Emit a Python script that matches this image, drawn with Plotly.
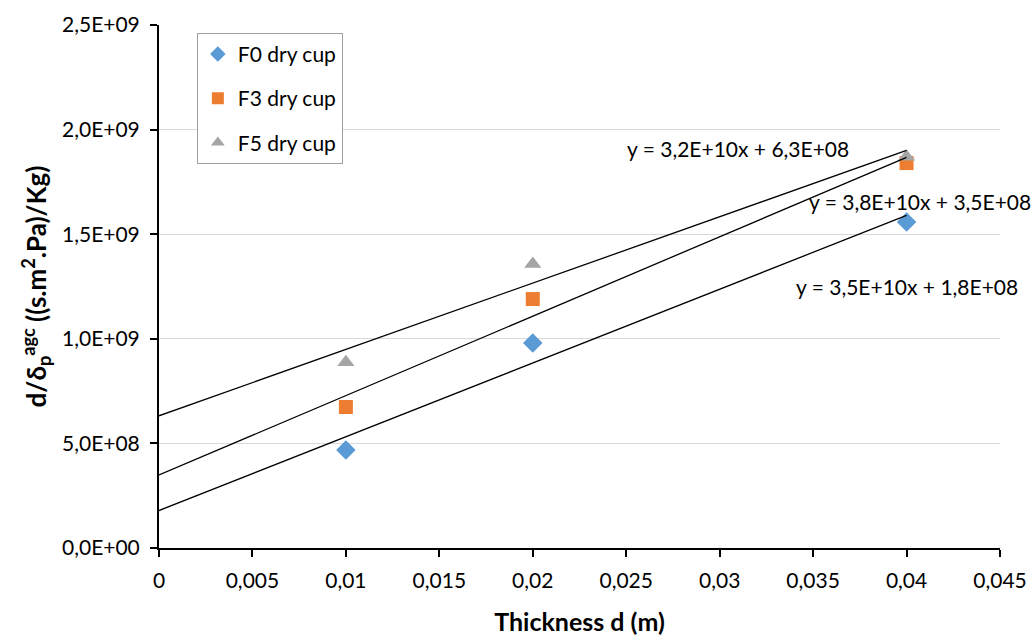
import numpy as np
import plotly.graph_objects as go

# Data
thickness = [0.01, 0.02, 0.04]
f0_values = [4.68e8, 9.80e8, 1.558e9]
f3_values = [6.74e8, 1.19e9, 1.84e9]
f5_values = [8.88e8, 1.358e9, 1.87e9]
series_names = ["F0 dry cup", "F3 dry cup", "F5 dry cup"]
series_colors = ["#5B9BD5", "#ED7D31", "#A5A5A5"]
series_symbols = ["diamond", "square", "triangle-up"]

x_tickvals = [0, 0.005, 0.01, 0.015, 0.02, 0.025, 0.03, 0.035, 0.04, 0.045]
x_ticktext = ["0", "0,005", "0,01", "0,015", "0,02", "0,025", "0,03", "0,035", "0,04", "0,045"]
y_tickvals = [0, 5e8, 1e9, 1.5e9, 2e9, 2.5e9]
y_ticktext = ["0,0E+00", "5,0E+08", "1,0E+09", "1,5E+09", "2,0E+09", "2,5E+09"]

# Equation label positions (x, y in data units) for each trendline (F0, F3, F5)
eq_label_pos = [(0.0400, 1.252e9), (0.0407, 1.654e9), (0.0310, 1.912e9)]

FONT = "Lato, 'Open Sans', sans-serif"


def fmt_sci(v):
    s = f"{v:.1E}"
    mant, exp = s.split("E")
    e = int(exp)
    return f"{mant.replace('.', ',')}E{'+' if e >= 0 else '-'}{abs(e):02d}"


fig = go.Figure()

all_series = [f0_values, f3_values, f5_values]
marker_sizes = [15, 14, 15]
for i, (name, vals, color, sym) in enumerate(zip(series_names, all_series, series_colors, series_symbols)):
    fig.add_trace(go.Scatter(
        x=thickness, y=vals, mode="markers", name=name, legendgroup=f"g{i}",
        marker=dict(symbol=sym, color=color, size=marker_sizes[i], line=dict(width=0)),
    ))

# Trendlines
for i, vals in enumerate(all_series):
    slope, intercept = np.polyfit(thickness, vals, 1)
    xs = [0, max(thickness)]
    ys = [intercept + slope * x for x in xs]
    fig.add_trace(go.Scatter(x=xs, y=ys, mode="lines", showlegend=False,
                             line=dict(color="black", width=1.3), hoverinfo="skip"))
    ex, ey = eq_label_pos[i]
    fig.add_annotation(x=ex, y=ey, xref="x", yref="y", showarrow=False,
                       text=f"y = {fmt_sci(slope)}x + {fmt_sci(intercept)}",
                       font=dict(family=FONT, size=21, color="black"))

fig.update_layout(
    width=1035, height=639,
    margin=dict(l=159, r=35, t=25, b=91),
    plot_bgcolor="white", paper_bgcolor="white",
    font=dict(family=FONT, size=21, color="black"),
    showlegend=True,
    legend=dict(x=0.045, y=0.985, xanchor="left", yanchor="top",
                bordercolor="#A0A0A0", borderwidth=1, bgcolor="white",
                font=dict(family=FONT, size=21, color="black"),
                itemsizing="constant", tracegroupgap=14),
    xaxis=dict(range=[0, 0.045], tickvals=x_tickvals, ticktext=x_ticktext,
               automargin=False,
               showgrid=False, zeroline=False, showline=True, linecolor="black",
               linewidth=2, ticks="outside", ticklen=7, tickwidth=2, tickcolor="black",
               ticklabelstandoff=6,
               tickfont=dict(family=FONT, size=21, color="black"),
               title=dict(text="<b>Thickness d (m)</b>",
                          font=dict(family=FONT, size=25, color="black"), standoff=22)),
    yaxis=dict(range=[0, 2.5e9], tickvals=y_tickvals, ticktext=y_ticktext,
               automargin=False,
               showgrid=True, gridcolor="#D9D9D9", gridwidth=1, zeroline=False,
               showline=True, linecolor="black", linewidth=2, ticks="outside",
               ticklen=7, tickwidth=2, tickcolor="black", ticklabelstandoff=6,
               tickfont=dict(family=FONT, size=21, color="black"),
               title=dict(text="<b>d/δ<sub>p</sub><sup>agc</sup> ((s.m<sup>2</sup>.Pa)/Kg)</b>",
                          font=dict(family=FONT, size=26, color="black"), standoff=8)),
)

fig.write_html("out.html")
